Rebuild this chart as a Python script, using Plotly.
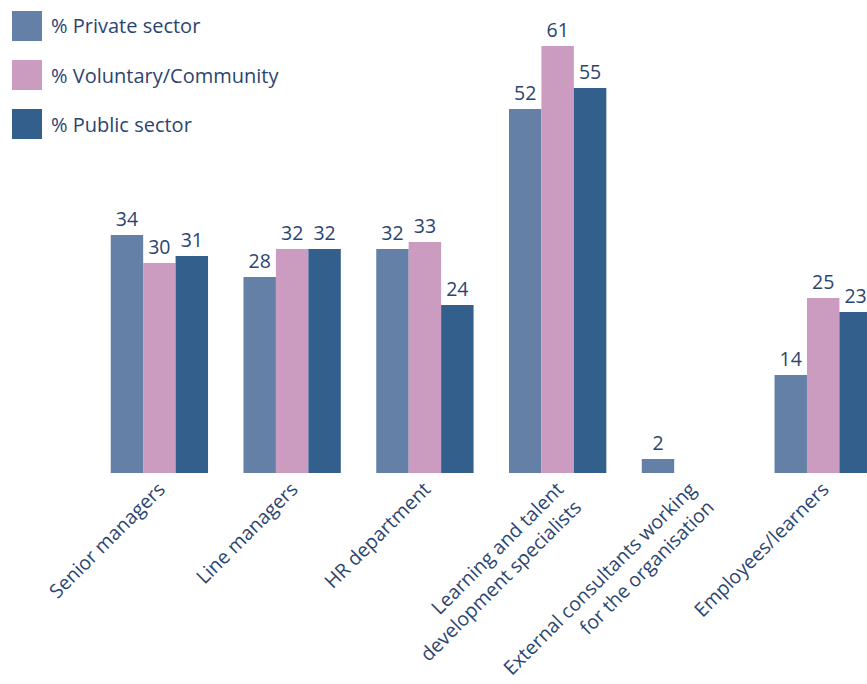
import plotly.graph_objects as go

categories = ["Senior managers", "Line managers", "HR department",
              "Learning and talent<br>development specialists",
              "External consultants working<br>for the organisation",
              "Employees/learners"]
series_names = ["% Private sector", "% Voluntary/Community", "% Public sector"]
private = [34, 28, 32, 52, 2, 14]
voluntary = [30, 32, 33, 61, None, 25]
public = [31, 32, 24, 55, None, 23]
colors = ["#6480a6", "#cc9bc0", "#335f8c"]
text_color = "#2b4570"
FONT = "Open Sans"

W, H = 867, 684
L, R, T, B = 93, 0, 0, 211

fig = go.Figure()
for name, vals, col in zip(series_names, [private, voluntary, public], colors):
    fig.add_trace(go.Bar(
        x=categories, y=vals, name=name, marker=dict(color=col, line=dict(width=0)),
        text=[str(v) if v is not None else "" for v in vals], textposition="outside",
        textfont=dict(size=19.5, color=text_color, family=FONT), cliponaxis=False,
        showlegend=False))

# custom legend (large squares) in paper coordinates
pw = W - L - R
ph = H - T - B
def px_x(x):
    return (x - L) / pw
def px_y(y):
    return 1 - (y - T) / ph

for i, (name, col) in enumerate(zip(series_names, colors)):
    yc = 26 + 49 * i
    fig.add_shape(type="rect", xref="paper", yref="paper",
                  x0=px_x(12), x1=px_x(42), y0=px_y(yc - 15), y1=px_y(yc + 15),
                  fillcolor=col, line=dict(width=0))
    fig.add_annotation(xref="paper", yref="paper", x=px_x(49), y=px_y(yc),
                       text=name, showarrow=False, xanchor="left", yanchor="middle",
                       font=dict(size=20, color=text_color, family=FONT))

fig.update_layout(
    width=W, height=H, margin=dict(l=L, r=R, t=T, b=B, autoexpand=False),
    paper_bgcolor="white", plot_bgcolor="white",
    barmode="group", bargap=0.267, bargroupgap=0,
    font=dict(family=FONT, color=text_color),
)
fig.update_xaxes(range=[-0.5, 5.33], tickangle=-45, showgrid=False, showline=False,
                 automargin=False,
                 ticks="", tickfont=dict(size=19.5, color=text_color, family=FONT))
fig.update_yaxes(range=[0, 473 / 7], visible=False, showgrid=False, automargin=False)

fig.write_html("out.html")
